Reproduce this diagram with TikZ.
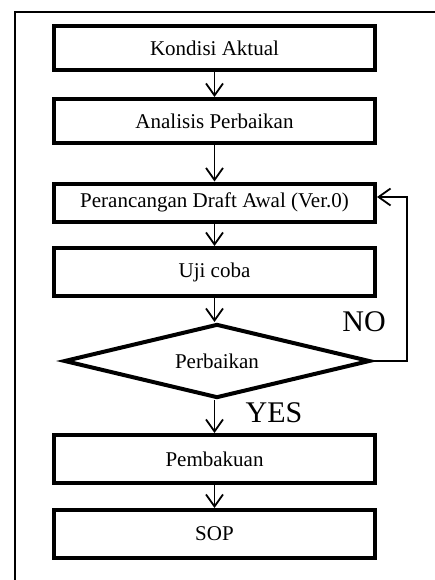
\documentclass[tikz,border=0pt]{standalone}
\usepackage{fontspec}
\setmainfont{Liberation Serif}
\usetikzlibrary{arrows.meta,shapes.geometric}
\begin{document}
\begin{tikzpicture}[x=1pt,y=-1pt,
  stepbox/.style={draw,line width=4pt,minimum width=321pt,inner sep=0pt,
    font=\fontsize{21}{25}\selectfont},
  flow/.style={line width=1.5pt,-{Straight Barb[length=12pt,width=17pt,line width=1.8pt]}},
  lbl/.style={font=\fontsize{30}{34}\selectfont,inner sep=0pt}]
\useasboundingbox (0,0) rectangle (435,580);
% frame
\draw[line width=1.5pt] (436,12) -- (15,12) -- (15,581);
% boxes
\node[stepbox,minimum height=44pt] (b1) at (214.5,48) {Kondisi Aktual};
\node[stepbox,minimum height=44pt] (b2) at (214.5,121) {Analisis Perbaikan};
\node[stepbox,minimum height=38pt] (b3) at (214.5,202.5) {Perancangan Draft Awal (Ver.0)};
\node[stepbox,minimum height=48pt] (b4) at (214.5,272) {Uji coba};
\node[draw,diamond,aspect=4,line width=4pt,inner sep=0pt,minimum width=306pt,
  minimum height=74pt,font=\fontsize{21}{25}\selectfont] (d) at (217,361) {Perbaikan};
\node[stepbox,minimum height=48pt] (b5) at (214.5,459) {Pembakuan};
\node[stepbox,minimum height=48pt] (b6) at (214.5,534) {SOP};
% connectors
\draw[flow] (b1.south) -- (b2.north);
\draw[flow] (b2.south) -- (b3.north);
\draw[flow] (b3.south) -- (b4.north);
\draw[flow] (b4.south) -- (b4.south |- d.north);
\draw[flow] (b5.north |- d.south) -- (b5.north);
\draw[flow] (b5.south) -- (b6.north);
\coordinate (fb) at (407,197);
\draw[flow] (d.east) -- (d.east -| fb) |- ([yshift=5.5pt]b3.east);
% labels
\node[lbl] (no) at (364,322) {NO};
\node[lbl] (yes) at (274,412.5) {YES};
\end{tikzpicture}
\end{document}
